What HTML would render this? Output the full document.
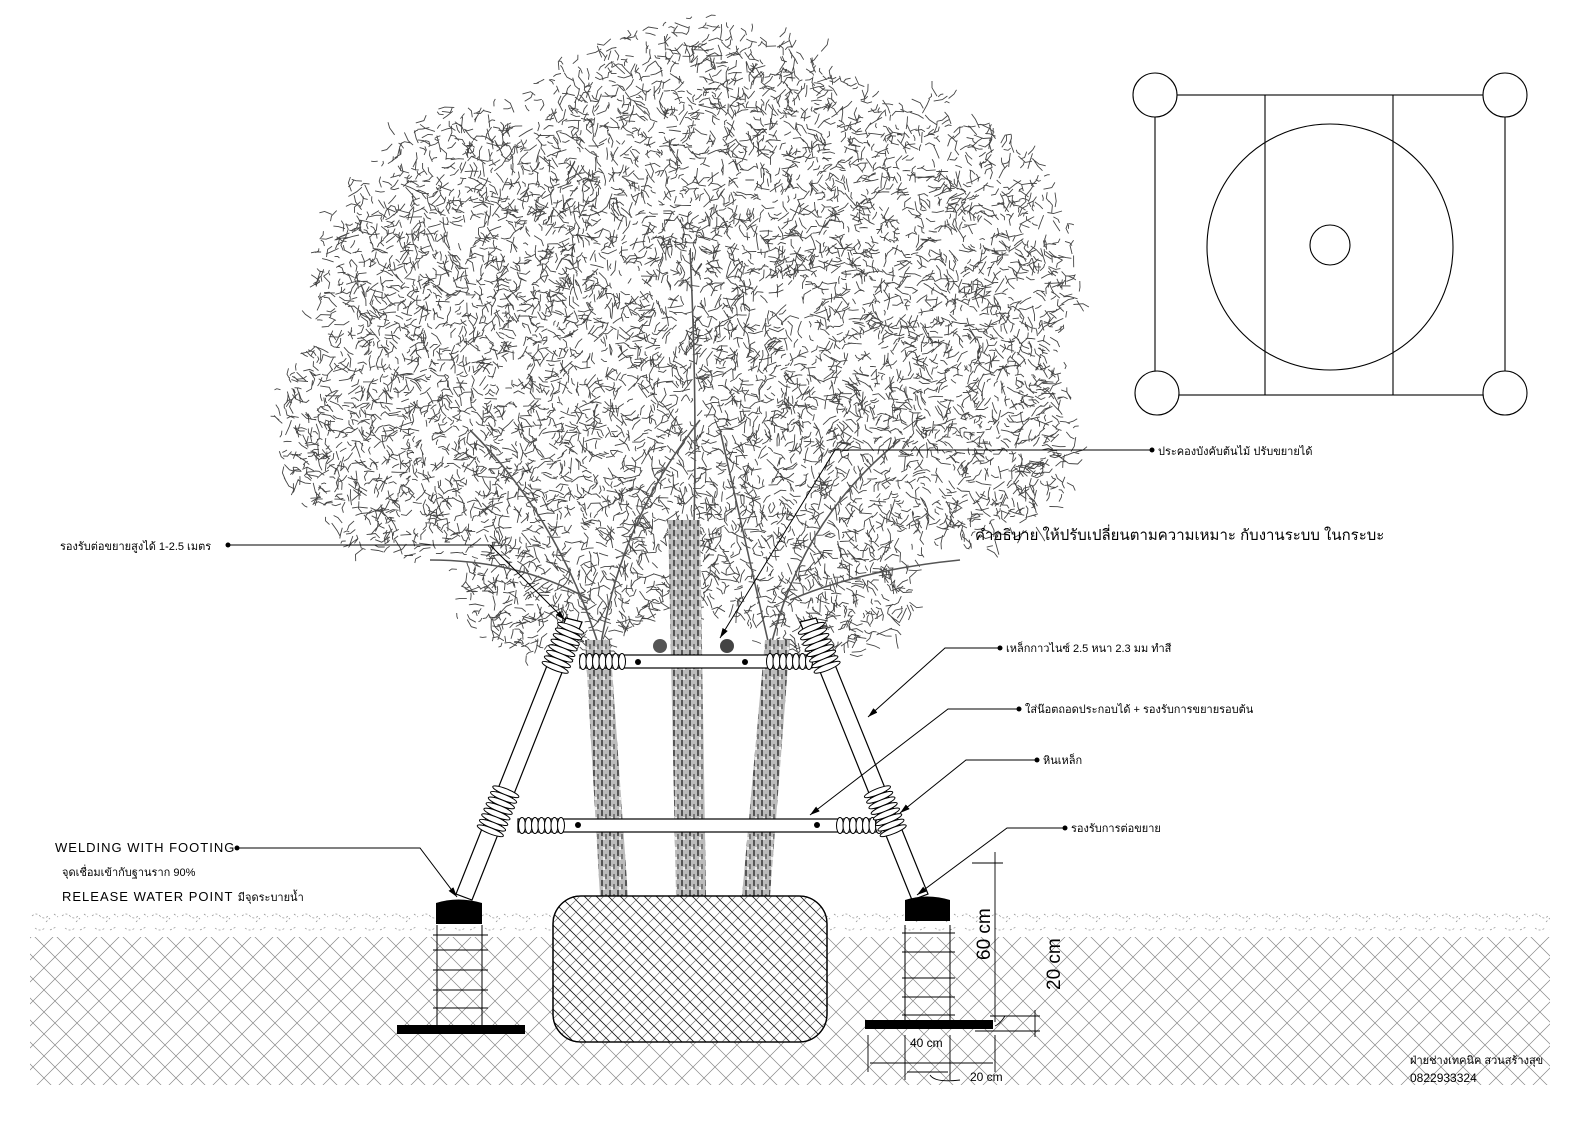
<!DOCTYPE html>
<html><head><meta charset="utf-8"><style>
html,body{margin:0;padding:0;background:#fff}
svg{display:block}
text{font-family:"Liberation Sans","Noto Sans CJK SC",sans-serif;fill:#000}
</style></head><body>
<svg id="s" width="1587" height="1122" viewBox="0 0 1587 1122" xmlns="http://www.w3.org/2000/svg">
<defs>
<pattern id="hx" width="22" height="22" patternUnits="userSpaceOnUse">
<path d="M0 0L22 22M22 0L0 22" stroke="#888" stroke-width="0.7" fill="none"/>
</pattern>
<pattern id="rb" width="12" height="12" patternUnits="userSpaceOnUse">
<path d="M0 12L12 0M-3 3L3 -3M9 15L15 9" stroke="#777" stroke-width="0.7" fill="none"/>
<path d="M0 0L12 12" stroke="#111" stroke-width="0.8" fill="none"/>
</pattern>
<pattern id="soil" width="30" height="26" patternUnits="userSpaceOnUse">
<path d="M2 6q4-4 8 0t8 0M16 12l4-4M5 18q5 4 10 0M20 20l6-3M24 4l4 3" stroke="#999" stroke-width="0.8" stroke-dasharray="2 2" fill="none"/>
</pattern>
<pattern id="bark" width="8" height="10" patternUnits="userSpaceOnUse">
<rect width="8" height="10" fill="#bbb"/>
<rect x="1" y="0" width="2" height="6" fill="#555"/><rect x="5" y="4" width="2" height="5" fill="#777"/><rect x="3" y="7" width="2" height="3" fill="#eee"/>
</pattern>
<marker id="ar" markerWidth="10" markerHeight="6" refX="10" refY="3" orient="auto"><path d="M0 0L10 3L0 6z" fill="#000"/></marker>
</defs>
<g id="tree"></g>
<!-- ground -->
<rect x="30" y="910" width="1520" height="27" fill="url(#soil)"/>
<rect x="30" y="937" width="1520" height="148" fill="url(#hx)"/>
<!-- trunks -->
<g fill="url(#bark)">
<path d="M585 640 L610 640 L628 896 L600 896 Z"/>
<path d="M668 520 L700 520 L706 896 L676 896 Z"/>
<path d="M765 640 L790 640 L770 896 L742 896 Z"/>
</g>
<!-- root ball -->
<rect x="553" y="896" width="274" height="146" rx="28" fill="#fff" stroke="#000" stroke-width="1.3"/>
<rect x="553" y="896" width="274" height="146" rx="28" fill="url(#rb)" stroke="#000" stroke-width="1.3"/>
<!-- poles -->
<g stroke="#000" stroke-width="1.2" fill="#fff">
<path d="M566 618 L582 622 L472 900 L456 894 Z"/>
<path d="M800 622 L816 618 L928 894 L912 900 Z"/>
<rect x="580" y="655" width="232" height="13"/>
<rect x="518" y="819" width="362" height="13"/>
</g>
<g id="coils"></g>
<g fill="#000">
<circle cx="638" cy="662" r="3"/><circle cx="745" cy="662" r="3"/>
<circle cx="578" cy="825" r="3"/><circle cx="817" cy="825" r="3"/>
</g>
<circle cx="660" cy="646" r="7" fill="#555"/><circle cx="727" cy="646" r="7" fill="#444"/>
<!-- footings -->
<g stroke="#000" stroke-width="1" fill="none">
<path d="M437 925V1025M482 925V1025M905 925V1020M950 925V1020"/>
<path d="M433 935H488M433 950H488M433 970H488M433 990H488M433 1008H488"/>
<path d="M902 933H955M902 952H955M902 978H955M902 997H955M902 1015H955"/>
</g>
<path d="M436 903 Q458 896 482 903 V924 H436Z" fill="#000"/>
<path d="M905 900 Q927 893 950 900 V921 H905Z" fill="#000"/>
<rect x="397" y="1025" width="128" height="9" fill="#000"/>
<rect x="865" y="1020" width="128" height="9" fill="#000"/>
<!-- leaders -->
<g stroke="#000" stroke-width="1" fill="none">
<path d="M1150 450H835L720 638" marker-end="url(#ar)"/>
<path d="M228 545H490L565 620" marker-end="url(#ar)"/>
<path d="M998 648H945L868 717" marker-end="url(#ar)"/>
<path d="M1017 709H948L810 815" marker-end="url(#ar)"/>
<path d="M1035 760H966L900 813" marker-end="url(#ar)"/>
<path d="M1063 828H1007L917 895" marker-end="url(#ar)"/>
<path d="M237 848H420L457 897" marker-end="url(#ar)"/>
</g>
<g fill="#000"><circle cx="1152" cy="450" r="2.5"/><circle cx="228" cy="545" r="2.5"/><circle cx="1000" cy="648" r="2.5"/><circle cx="1019" cy="709" r="2.5"/><circle cx="1037" cy="760" r="2.5"/><circle cx="1065" cy="828" r="2.5"/><circle cx="237" cy="848" r="2.5"/></g>
<text x="1158" y="455" font-size="11">ประคองบังคับต้นไม้ ปรับขยายได้</text>
<text x="60" y="550" font-size="11">รองรับต่อขยายสูงได้ 1-2.5 เมตร</text>
<text x="975" y="540" font-size="15">คำอธิบาย ให้ปรับเปลี่ยนตามความเหมาะ กับงานระบบ ในกระบะ</text>
<text x="1006" y="652" font-size="11">เหล็กกาวไนซ์ 2.5 หนา 2.3 มม ทำสี</text>
<text x="1025" y="713" font-size="11">ใส่น๊อตถอดประกอบได้ + รองรับการขยายรอบต้น</text>
<text x="1043" y="764" font-size="11">หินเหล็ก</text>
<text x="1071" y="832" font-size="11">รองรับการต่อขยาย</text>
<text x="55" y="852" font-size="13" letter-spacing="1">WELDING WITH FOOTING</text>
<text x="62" y="876" font-size="11">จุดเชื่อมเข้ากับฐานราก  90%</text>
<text x="62" y="901" font-size="13" letter-spacing="1">RELEASE WATER POINT <tspan font-size="11" letter-spacing="0">มีจุดระบายน้ำ</tspan></text>
<!-- dimensions -->
<g stroke="#000" stroke-width="0.9" fill="none">
<path d="M995 852V1022M972 863H1003M990 1016H1040M975 1031H1040M1035 1010V1037"/>
<path d="M868 1035V1072M995 1035V1072M905 1035V1080M950 1035V1080"/>
<path d="M870 1063H993M907 1072H948"/>
<path d="M1005 1016q-5 8 -10 10M930 1075q5 8 30 5"/>
</g>
<text transform="translate(990,960) rotate(-90)" font-size="19">60 cm</text>
<text transform="translate(1060,990) rotate(-90)" font-size="19">20 cm</text>
<text x="910" y="1047" font-size="12">40 cm</text>
<text x="970" y="1081" font-size="12">20 cm</text>
<text x="1410" y="1064" font-size="11">ฝ่ายช่างเทคนิค สวนสร้างสุข</text>
<text x="1410" y="1082" font-size="12">0822933324</text>
<!-- plan -->
<g stroke="#000" stroke-width="1.1" fill="#fff">
<rect x="1155" y="95" width="350" height="300" fill="none"/>
<path d="M1265 95V395M1393 95V395" fill="none"/>
<circle cx="1330" cy="247" r="123" fill="none"/>
<circle cx="1330" cy="245" r="20"/>
<circle cx="1155" cy="95" r="22"/><circle cx="1505" cy="95" r="22"/>
<circle cx="1157" cy="393" r="22"/><circle cx="1505" cy="393" r="22"/>
</g>
</svg>
<script>
(function(){
var seed=12345;function r(){seed=(seed*16807)%2147483647;return (seed-1)/2147483646;}
var E=[[700,240,240,220],[500,300,190,200],[900,290,180,200],[420,430,150,130],[980,430,100,120],[680,440,320,180],[700,110,110,95],[470,190,70,90],[880,180,80,90],[560,590,110,75],[820,590,100,75]];
function dens(x,y){var best=0;for(var i=0;i<E.length;i++){var e=E[i],dx=(x-e[0])/e[2],dy=(y-e[1])/e[3],q=1-(dx*dx+dy*dy);if(q>best)best=q;}return best;}
var d='';var n=0,tries=0;
while(n<7500&&tries<200000){tries++;var x=270+r()*815,y=15+r()*680;var q=dens(x,y);if(q<=0)continue;if(r()>Math.min(1,q*2.2+0.25))continue;
var a=r()*6.283,l=3+r()*7,x2=x+Math.cos(a)*l,y2=y+Math.sin(a)*l,a2=a+(r()-0.5)*2,x3=x2+Math.cos(a2)*l*0.7,y3=y2+Math.sin(a2)*l*0.7;
d+='M'+x.toFixed(1)+' '+y.toFixed(1)+'L'+x2.toFixed(1)+' '+y2.toFixed(1)+'L'+x3.toFixed(1)+' '+y3.toFixed(1);n++;}
var ns='http://www.w3.org/2000/svg',g=document.getElementById('tree');
var p=document.createElementNS(ns,'path');p.setAttribute('d',d);p.setAttribute('stroke','#444');p.setAttribute('stroke-width','0.9');p.setAttribute('fill','none');g.appendChild(p);
var b='M600 650Q560 520 470 430M600 650Q620 520 700 420M690 620Q700 450 690 250M770 650Q800 520 900 440M770 650Q740 520 720 430M590 600Q520 560 430 560M790 600Q860 570 960 560';
var q2=document.createElementNS(ns,'path');q2.setAttribute('d',b);q2.setAttribute('stroke','#555');q2.setAttribute('stroke-width','1.6');q2.setAttribute('fill','none');g.appendChild(q2);
var c=document.getElementById('coils');
function add(el,attrs){var e=document.createElementNS(ns,el);for(var k in attrs)e.setAttribute(k,attrs[k]);c.appendChild(e);return e;}
// bar coils (vertical rings)
function barCoils(x0,cy,n,step){for(var i=0;i<n;i++)add('ellipse',{cx:x0+i*step,cy:cy,rx:3.5,ry:8,fill:'#fff',stroke:'#000','stroke-width':1});}
barCoils(583,661.5,7,6.5);barCoils(770,661.5,7,6.5);barCoils(522,825.5,7,6.5);barCoils(840,825.5,7,6.5);
// pole coils (rings perpendicular to pole)
function poleCoils(xa,ya,xb,yb,t0,n){var dx=xb-xa,dy=yb-ya,L=Math.sqrt(dx*dx+dy*dy),ang=Math.atan2(dy,dx)*180/Math.PI;
for(var i=0;i<n;i++){var t=t0+i*6/L,x=xa+dx*t,y=ya+dy*t;add('ellipse',{cx:x,cy:y,rx:3,ry:14,transform:'rotate('+ang+' '+x+' '+y+')',fill:'#fff',stroke:'#000','stroke-width':1});}}
poleCoils(574,620,464,897,0.03,8);poleCoils(574,620,464,897,0.62,8);
poleCoils(808,620,920,897,0.03,8);poleCoils(808,620,920,897,0.62,8);
})();
</script>
</body></html>
